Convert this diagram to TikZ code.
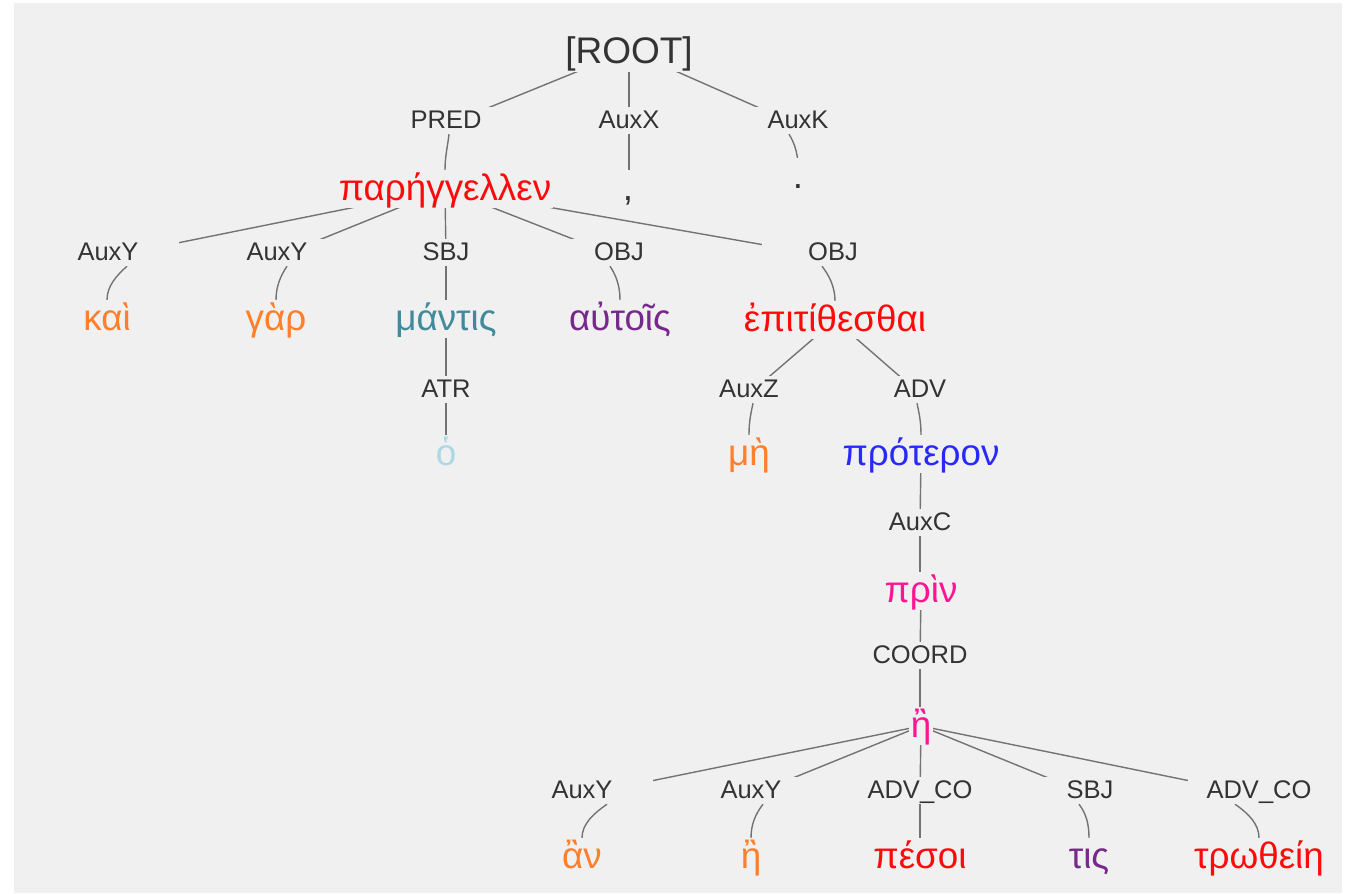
\documentclass[tikz,border=0pt]{standalone}
\usepackage{fontspec}
\setmainfont{Liberation Sans}
\definecolor{bgc}{RGB}{240,240,240}
\definecolor{labc}{RGB}{51,51,51}
\definecolor{edgec}{RGB}{115,115,115}
\definecolor{cred}{RGB}{255,10,10}
\definecolor{corange}{RGB}{255,127,42}
\definecolor{cteal}{RGB}{64,138,156}
\definecolor{cpurple}{RGB}{120,40,140}
\definecolor{clblue}{RGB}{173,216,230}
\definecolor{cblue}{RGB}{40,40,255}
\definecolor{cpink}{RGB}{255,20,147}
\pgfdeclarelayer{bglayer}
\pgfdeclarelayer{edgelayer}
\pgfsetlayers{bglayer,edgelayer,main}
\begin{document}
\begin{tikzpicture}[x=1pt,y=-1pt,
  word/.style={anchor=base, fill=bgc, font=\fontsize{36.8}{42}\selectfont, text height=29pt, text depth=7pt, inner xsep=2pt, inner ysep=1pt},
  lab/.style={anchor=base, fill=bgc, text=labc, font=\fontsize{25.5}{30}\selectfont, text height=20pt, text depth=5pt, inner xsep=0pt, inner ysep=1pt, minimum width=142pt},
  edge/.style={draw=edgec, line width=1.4pt},
]
\useasboundingbox (0,0) rectangle (1350,894);
\begin{pgfonlayer}{bglayer}
\fill[white] (0,0) rectangle (1350,894);
\fill[bgc] (14,3) rectangle (1342,893);
\end{pgfonlayer}

% nodes
\node[lab, font=\fontsize{37}{44}\selectfont, text height=33pt, text depth=8pt, minimum width=0pt, inner xsep=2pt] (root) at (629,63) {[ROOT]};
\node[lab] (lPRED) at (446,128) {PRED};
\node[lab] (lAuxX) at (629,128) {AuxX};
\node[lab] (lAuxK) at (798,128) {AuxK};
\node[word,text=cred] (wpar) at (445,200) {παρήγγελλεν};
\node[word,text=labc] (wcomma) at (628,200) {,};
\node[word,text=labc] (wdot) at (798,188) {.};

\node[lab] (lY1) at (108,260) {AuxY};
\node[lab] (lY2) at (277,260) {AuxY};
\node[lab] (lSBJ) at (446,260) {SBJ};
\node[lab] (lOBJ1) at (619,260) {OBJ};
\node[lab] (lOBJ2) at (833,260) {OBJ};
\node[word,text=corange] (wkai) at (107,330) {καὶ};
\node[word,text=corange] (wgar) at (276,330) {γὰρ};
\node[word,text=cteal] (wmant) at (446,330) {μάντις};
\node[word,text=cpurple] (waut) at (620,330) {αὐτοῖς};
\node[word,text=cred] (wepi) at (835,331) {ἐπιτίθεσθαι};

\node[lab] (lATR) at (446,397) {ATR};
\node[word,text=clblue] (wo) at (446,465) {ὁ};
\node[lab] (lAuxZ) at (749,397) {AuxZ};
\node[lab] (lADV) at (920,397) {ADV};
\node[word,text=corange] (wme) at (749,465) {μὴ};
\node[word,text=cblue] (wprot) at (921,465) {πρότερον};
\node[lab] (lAuxC) at (920,530) {AuxC};
\node[word,text=cpink] (wprin) at (921,602) {πρὶν};
\node[lab] (lCOORD) at (920,663) {COORD};
\node[word,text=cpink] (we) at (921,737) {ἢ};

\node[lab] (lbY1) at (582,798) {AuxY};
\node[lab] (lbY2) at (751,798) {AuxY};
\node[lab] (lbADV1) at (920,798) {ADV\_CO};
\node[lab] (lbSBJ) at (1090,798) {SBJ};
\node[lab] (lbADV2) at (1259,798) {ADV\_CO};
\node[word,text=corange] (wan) at (582,868) {ἂν};
\node[word,text=corange] (we2) at (751,868) {ἢ};
\node[word,text=cred] (wpes) at (920,868) {πέσοι};
\node[word,text=cpurple] (wtis) at (1089,868) {τις};
\node[word,text=cred] (wtro) at (1259,868) {τρωθείη};

% edges
\begin{pgfonlayer}{edgelayer}
% parent -> label (straight, masked by nodes)
\draw[edge] (root.center) -- ([yshift=3pt]lPRED.base);
\draw[edge] (root.center) -- ([yshift=3pt]lAuxX.base);
\draw[edge] (root.center) -- ([yshift=3pt]lAuxK.base);
\draw[edge] (wpar.center) -- ([yshift=3pt]lY1.base);
\draw[edge] (wpar.center) -- ([yshift=3pt]lY2.base);
\draw[edge] (wpar.center) -- ([yshift=3pt]lSBJ.base);
\draw[edge] (wpar.center) -- ([yshift=3pt]lOBJ1.base);
\draw[edge] (wpar.center) -- ([yshift=3pt]lOBJ2.base);
\draw[edge] (wmant.center) -- ([yshift=3pt]lATR.base);
\draw[edge] (wepi.center) -- ([yshift=3pt]lAuxZ.base);
\draw[edge] (wepi.center) -- ([yshift=3pt]lADV.base);
\draw[edge] (wprot.center) -- ([yshift=3pt]lAuxC.base);
\draw[edge] (wprin.center) -- ([yshift=3pt]lCOORD.base);
\draw[edge] (we.center) -- ([yshift=3pt]lbY1.base);
\draw[edge] (we.center) -- ([yshift=3pt]lbY2.base);
\draw[edge] (we.center) -- ([yshift=3pt]lbADV1.base);
\draw[edge] (we.center) -- ([yshift=3pt]lbSBJ.base);
\draw[edge] (we.center) -- ([yshift=3pt]lbADV2.base);
% label -> word (curved)
\draw[edge] ([xshift=3pt]lPRED.south) .. controls +(-1,10) and +(0,-14) .. (wpar.north);
\draw[edge] (lAuxX.south) -- (lAuxX.south |- wcomma.north);
\draw[edge] ([xshift=-9pt]lAuxK.south) .. controls +(5,8) and +(0,-14) .. ([yshift=-9pt]wdot.north);
\draw[edge] ([xshift=19pt]lY1.south) .. controls +(-10,9) and +(0,-14) .. (wkai.north);
\draw[edge] ([xshift=10pt]lY2.south) .. controls +(-6,9) and +(0,-14) .. (wgar.north);
\draw[edge] (lSBJ.south) -- (wmant.north);
\draw[edge] ([xshift=-9pt]lOBJ1.south) .. controls +(6,9) and +(0,-14) .. (waut.north);
\draw[edge] ([xshift=-11pt]lOBJ2.south) .. controls +(7,9) and +(0,-14) .. (wepi.north);
\draw[edge] (lATR.south) -- (wo.north);
\draw[edge] ([xshift=4pt]lAuxZ.south) .. controls +(-2,10) and +(0,-14) .. (wme.north);
\draw[edge] ([xshift=-3pt]lADV.south) .. controls +(2,10) and +(0,-14) .. (wprot.north);
\draw[edge] (lAuxC.south) -- (lAuxC.south |- wprin.north);
\draw[edge] (lCOORD.south) -- (lCOORD.south |- we.north);
\draw[edge] ([xshift=25pt]lbY1.south) .. controls +(-13,9) and +(0,-14) .. (wan.north);
\draw[edge] ([xshift=12pt]lbY2.south) .. controls +(-7,9) and +(0,-14) .. (we2.north);
\draw[edge] (lbADV1.south) -- (wpes.north);
\draw[edge] ([xshift=-11pt]lbSBJ.south) .. controls +(7,9) and +(0,-14) .. (wtis.north);
\draw[edge] ([xshift=-24pt]lbADV2.south) .. controls +(13,9) and +(0,-14) .. (wtro.north);
\end{pgfonlayer}
\end{tikzpicture}
\end{document}
